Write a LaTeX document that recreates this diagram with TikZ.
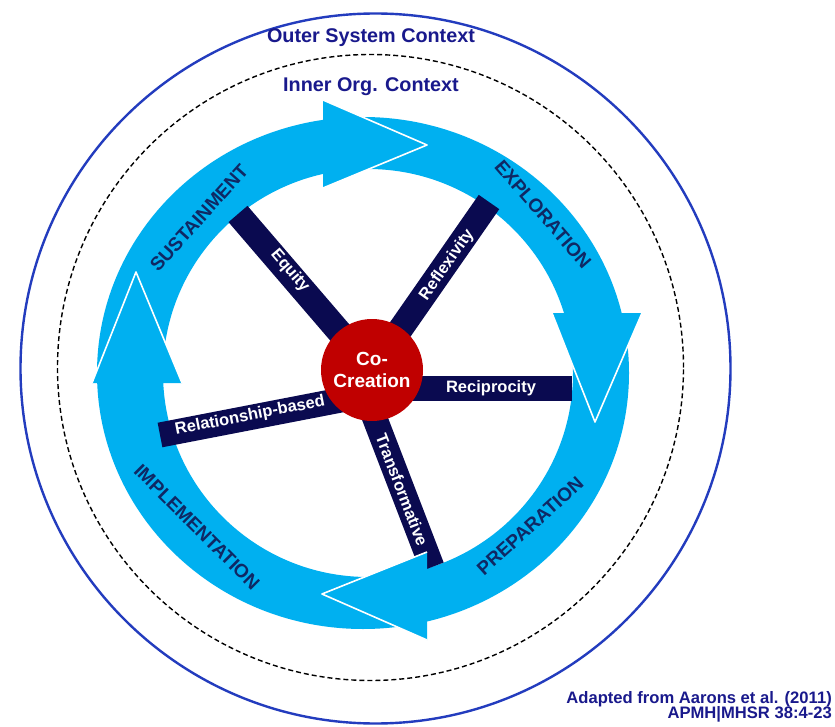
\documentclass[tikz,border=0pt]{standalone}
\usepackage{fontspec}
\setmainfont{Liberation Sans}
\definecolor{ringblue}{RGB}{0,176,240}
\definecolor{spokecol}{RGB}{10,10,80}
\definecolor{ccred}{RGB}{192,0,0}
\definecolor{outerblue}{RGB}{35,60,190}
\definecolor{titleblue}{RGB}{25,25,140}
\definecolor{phasecol}{RGB}{15,40,100}
\begin{document}
\begin{tikzpicture}[x=1pt,y=-1pt,
  phaselab/.style={text=phasecol, font=\bfseries\fontsize{19}{19}\selectfont, inner sep=0pt},
  spokelab/.style={text=white, font=\bfseries\fontsize{16.5}{16.5}\selectfont, inner sep=0pt},
  ctx/.style={text=titleblue, font=\bfseries\fontsize{19.8}{20}\selectfont, inner sep=0pt, anchor=base},
  foot/.style={text=titleblue, font=\bfseries\fontsize{16.6}{16}\selectfont, inner sep=0pt, anchor=base east},
  bar/.style={spokecol, line width=25pt},
  headfill/.style={fill=ringblue},
  headedge/.style={white, line width=1.6pt, line join=round},
]
\useasboundingbox (0,0) rectangle (835,727);
\fill[white] (0,0) rectangle (835,727);
% context circles
\draw[outerblue, line width=2.4pt] (375.5,368.5) circle [radius=355pt];
\draw[black, line width=1.4pt, dash pattern=on 5pt off 3pt] (370.5,367.5) circle [radius=313pt];
\node[ctx] (outer) at (371,43) {Outer System Context};
\node[ctx] (inner) at (371,91.5) {Inner Org. Context};
% ring band
\fill[ringblue, even odd rule] (363,373) ellipse [x radius=266pt, y radius=256pt]
  (368,373) ellipse [x radius=205pt, y radius=204pt];
% spokes
\coordinate (eqI) at (372,370);  \coordinate (eqO) at (238,214);
\coordinate (rfI) at (372,370);  \coordinate (rfO) at (489,202);
\coordinate (rcI) at (372,388);  \coordinate (rcO) at (572,388);
\coordinate (rbI) at (372,394);  \coordinate (rbO) at (160,435);
\coordinate (trI) at (357,372);  \coordinate (trO) at (432,567);
\draw[bar] (eqI) -- (eqO);
\draw[bar] (rfI) -- (rfO);
\draw[bar] (rcI) -- (rcO);
\draw[bar] (rbI) -- (rbO);
\draw[bar] (trI) -- (trO);
% arrow heads
\fill[headfill] (323,100) -- (427,145) -- (323,188) -- cycle;
\draw[headedge] (323,100) -- (427,145) -- (323,188);
\fill[headfill] (552,313) -- (595,422) -- (642,313) -- cycle;
\draw[headedge] (552,313) -- (595,422) -- (642,313);
\fill[headfill] (427,552) -- (322,594) -- (427,640) -- cycle;
\draw[headedge] (427,552) -- (322,594) -- (427,640);
\fill[headfill] (92,383) -- (136,272) -- (182,383) -- cycle;
\draw[headedge] (92,383) -- (136,272) -- (182,383);
% centre
\node[circle, fill=ccred, minimum size=102pt, inner sep=0pt, text=white,
  font=\bfseries\fontsize{19}{22}\selectfont, align=center] (cc) at (372,370) {Co-\\Creation};
% phase labels
\node[phaselab, rotate=48] (sus) at (199,218) {SUSTAINMENT};
\node[phaselab, rotate=-49] (exp) at (543,214) {EXPLORATION};
\node[phaselab, rotate=42] (pre) at (530,526) {PREPARATION};
\node[phaselab, rotate=-45] (imp) at (197,527) {IMPLEMENTATION};
% spoke labels
\node[spokelab, rotate=-49.3] (eq) at (290,271) {Equity};
\node[spokelab, rotate=55] (rf) at (447,265) {Reflexivity};
\node[spokelab] (rc) at (491,388) {Reciprocity};
\node[spokelab, rotate=11] (rb) at (250,416) {Relationship-based};
\node[spokelab, rotate=-69] (tr) at (402,490) {Transformative};
% footer
\node[foot] (f1) at (832,703) {Adapted from Aarons et al. (2011)};
\node[foot] (f2) at (832,718.5) {APMH|MHSR 38:4-23};
\end{tikzpicture}
\end{document}
